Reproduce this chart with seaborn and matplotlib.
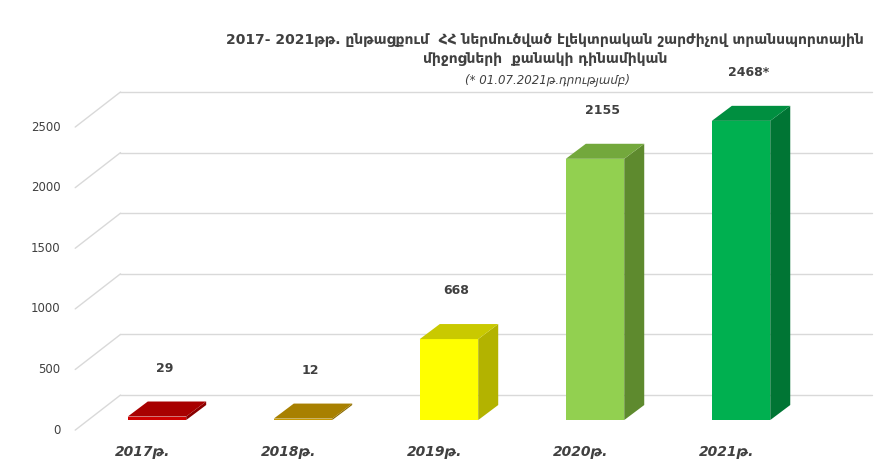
import matplotlib
matplotlib.use("Agg")
import matplotlib.pyplot as plt
import seaborn as sns
import pandas as pd
from matplotlib.patches import Polygon

years = ["2017թ.", "2018թ.", "2019թ.", "2020թ.", "2021թ."]
values = [29, 12, 668, 2155, 2468]
value_labels = ["29", "12", "668", "2155", "2468*"]
front_colors = ["#d00000", "#c99a00", "#ffff00", "#92d050", "#00b050"]
side_colors = ["#8a0000", "#8a6a00", "#b3b300", "#5e8a2e", "#007534"]
top_colors = ["#a80000", "#a88000", "#c9c900", "#73a83c", "#008f40"]
ticks = [0, 500, 1000, 1500, 2000, 2500]

title = ("2017- 2021թթ. ընթացքում  ՀՀ ներմուծված էլեկտրական շարժիչով տրանսպորտային\n"
         "միջոցների  քանակի դինամիկան")
subtitle = "(* 01.07.2021թ.դրությամբ)"

sns.set_theme(style="white")
plt.rcParams["font.family"] = ["DejaVu Sans"]

fig = plt.figure(figsize=(8.91, 4.70), dpi=100)
ax = fig.add_axes([0, 0, 1, 1])

df = pd.DataFrame({"year": years, "value": values})
sns.barplot(data=df, x="year", y="value", hue="year", palette=front_colors,
            width=0.4, legend=False, ax=ax, zorder=3, saturation=1, linewidth=0)

ax.set_xlim(-1.075, 5.027)
ax.set_ylim(-412, 3465)
ax.axis("off")

# perspective offsets (category units / value units)
dx, dy = 0.137, 124
wall_front_x, wall_back_x = -0.56, -0.25
back_dy, front_dy = 206, -83

for t in ticks:
    ax.plot([wall_front_x, wall_back_x], [t + front_dy, t + back_dy], color="#d9d9d9", lw=1, zorder=0)
    ax.plot([wall_back_x, 4.9], [t + back_dy, t + back_dy], color="#d9d9d9", lw=1, zorder=0)
    ax.text(wall_front_x - 0.1, t + front_dy, str(t), ha="right", va="center", fontsize=8.5, color="#404040")

for i, (v, lab) in enumerate(zip(values, value_labels)):
    x0, x1 = i - 0.2, i + 0.2
    ax.add_patch(Polygon([[x1, 0], [x1 + dx, dy], [x1 + dx, v + dy], [x1, v]],
                         facecolor=side_colors[i], lw=0, zorder=2))
    ax.add_patch(Polygon([[x0, v], [x1, v], [x1 + dx, v + dy], [x0 + dx, v + dy]],
                         facecolor=top_colors[i], lw=0, zorder=4))
    ax.text(i + 0.05, v + 400, lab, ha="center", va="center", fontsize=9,
            fontweight="bold", color="#404040")
    ax.text(i - 0.1, -265, years[i], ha="center", va="center", fontsize=10,
            fontweight="bold", style="italic", color="#404040")

ax.set_xlabel("")
ax.set_ylabel("")
fig.text(0.612, 0.895, title, ha="center", va="center", fontsize=10,
         fontweight="bold", color="#404040", linespacing=1.4)
fig.text(0.615, 0.83, subtitle, ha="center", va="center", fontsize=8.5,
         style="italic", color="#404040")

fig.savefig("out.png", dpi=100)
